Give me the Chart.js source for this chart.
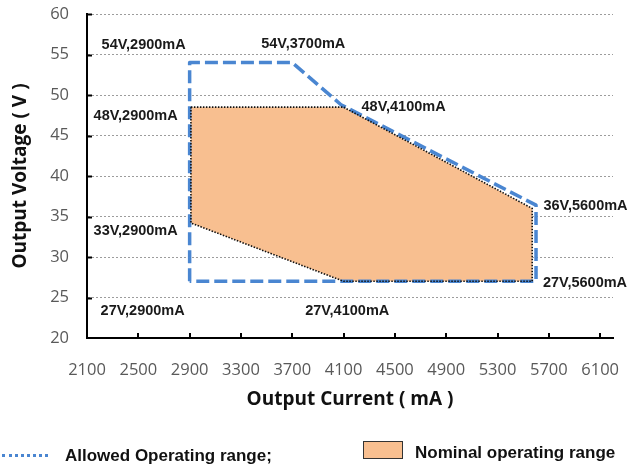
<!DOCTYPE html>
<html>
<head>
<meta charset="utf-8">
<script src="https://cdn.jsdelivr.net/npm/chart.js@4/dist/chart.umd.min.js"></script>
<style>
  html, body { margin: 0; padding: 0; background: #fff; }
  #wrap { position: relative; width: 632px; height: 468px; }
  canvas { position: absolute; left: 0; top: 0; }
  .lg { position: absolute; font: bold 17px "Liberation Sans", Arial, sans-serif; color: #111; white-space: nowrap; line-height: 20px; }
  #lgLine { position: absolute; left: 2px; top: 454px; width: 46px; height: 0; border-top: 3px dotted #4A86D1; }
  #lgBox { position: absolute; left: 363px; top: 441px; width: 38px; height: 16px; background: #F8BF90; border: 1px solid #333; }
</style>
</head>
<body>
<div id="wrap">
  <canvas id="c" width="632" height="468"></canvas>
  <div id="lgLine"></div>
  <div class="lg" style="left:65px; top:446px;">Allowed Operating range;</div>
  <div id="lgBox"></div>
  <div class="lg" style="left:415px; top:443px;">Nominal operating range</div>
</div>
<script>
// ---- data ----
const xTicks = [2100, 2500, 2900, 3300, 3700, 4100, 4500, 4900, 5300, 5700, 6100];
const yTicks = [20, 25, 30, 35, 40, 45, 50, 55, 60];

const allowedCurrent = [2900, 2900, 3700, 4080, 5600, 5600, 2900];
const allowedVoltage = [27, 54, 54, 48.8, 36.4, 27, 27];

const nominalCurrent = [2910, 4100, 5570, 5570, 4100, 2910, 2910];
const nominalVoltage = [48.5, 48.5, 36, 27, 27, 34.2, 48.5];

const pointLabels   = ['54V,2900mA', '54V,3700mA', '48V,2900mA', '48V,4100mA', '36V,5600mA', '33V,2900mA', '27V,5600mA', '27V,2900mA', '27V,4100mA'];
const labelCurrent  = [2900, 3700, 2900, 4100, 5600, 2900, 5600, 2900, 4100];
const labelVoltage  = [54, 54, 48, 48, 36, 33, 27, 27, 27];

// ---- styling (label offsets in px from their anchor) ----
const labelOffsets = [[-46, -18], [11, -19], [-54, 4.5], [60, -4.5], [49.5, -2], [-54, -2], [49, 1.5], [-47, 29.5], [3.6, 29.5]];

const toXY = (xs, ys) => xs.map((v, i) => ({ x: v, y: ys[i] }));

const overlay = {
  id: 'overlay',
  afterDatasetsDraw(chart) {
    const { ctx, scales: { x, y } } = chart;
    ctx.save();
    ctx.strokeStyle = '#000';
    ctx.lineWidth = 2;
    yTicks.forEach(v => {
      if (v === yTicks[0]) return;
      const py = Math.round(y.getPixelForValue(v)) + 0.5;
      ctx.beginPath(); ctx.moveTo(x.left, py); ctx.lineTo(x.left + 5, py); ctx.stroke();
    });
    xTicks.forEach(v => {
      if (v === xTicks[0]) return;
      const px = Math.round(x.getPixelForValue(v));
      ctx.beginPath(); ctx.moveTo(px, y.bottom); ctx.lineTo(px, y.bottom - 5); ctx.stroke();
    });
    ctx.fillStyle = '#1a1a1a';
    ctx.font = 'bold 14.5px "Liberation Sans", Arial, sans-serif';
    ctx.textAlign = 'center';
    ctx.textBaseline = 'middle';
    pointLabels.forEach((t, i) => {
      const px = x.getPixelForValue(labelCurrent[i]) + labelOffsets[i][0];
      const py = y.getPixelForValue(labelVoltage[i]) + labelOffsets[i][1];
      ctx.fillText(t, px, py);
    });
    ctx.restore();
  }
};

const tickFont = { family: '"Open Sans", sans-serif', size: 16.5 };
const titleFont = { family: '"Open Sans", sans-serif', size: 19, weight: 'bold' };

new Chart(document.getElementById('c'), {
  type: 'scatter',
  data: {
    datasets: [
      {
        label: 'Nominal operating range',
        data: toXY(nominalCurrent, nominalVoltage),
        showLine: true, fill: 'shape', backgroundColor: '#F8BF90',
        borderWidth: 0, borderColor: 'rgba(0,0,0,0)', pointRadius: 0, tension: 0, order: 3
      },
      {
        label: 'Allowed Operating range',
        data: toXY(allowedCurrent, allowedVoltage),
        showLine: true, fill: false, borderColor: '#4A86D1', borderWidth: 3.5,
        borderDash: [13, 5], pointRadius: 0, tension: 0, order: 2,
        borderJoinStyle: 'round'
      },
      {
        label: 'Nominal outline',
        data: toXY(nominalCurrent, nominalVoltage),
        showLine: true, fill: false, borderColor: '#111', borderWidth: 1.6,
        borderDash: [1.5, 1.5], pointRadius: 0, tension: 0, order: 1
      }
    ]
  },
  options: {
    responsive: false,
    animation: false,
    events: [],
    layout: { autoPadding: false, padding: { top: 14, right: 19, bottom: 51, left: 0 } },
    plugins: { legend: { display: false }, tooltip: { enabled: false } },
    scales: {
      x: {
        type: 'linear', min: 2100, max: 6200,
        afterBuildTicks(s) { s.ticks = xTicks.map(v => ({ value: v })); },
        afterFit(s) { s.height = 79; s.paddingLeft = 0; s.paddingRight = 0; },
        grid: { display: false, drawTicks: false },
        border: { display: true, color: '#000', width: 2 },
        ticks: { font: tickFont, color: '#595959', padding: 22, maxRotation: 0, autoSkip: false, callback: v => String(v) },
        title: { display: true, text: 'Output Current ( mA )', font: titleFont, color: '#111', padding: { top: 0, bottom: 6.5 } }
      },
      y: {
        type: 'linear', min: 20, max: 60,
        afterBuildTicks(s) { s.ticks = yTicks.map(v => ({ value: v })); },
        afterFit(s) { s.width = 87; s.paddingTop = 0; s.paddingBottom = 0; },
        grid: { color: '#9c9c9c', lineWidth: 1, drawTicks: false },
        border: { display: true, color: '#000', width: 2, dash: [2, 2] },
        ticks: { font: tickFont, color: '#595959', padding: 18, callback: v => String(v) },
        title: { display: true, text: 'Output Voltage ( V )', font: titleFont, color: '#111', padding: { top: 9.5, bottom: 0 } }
      }
    }
  },
  plugins: [overlay]
});
</script>
</body>
</html>
